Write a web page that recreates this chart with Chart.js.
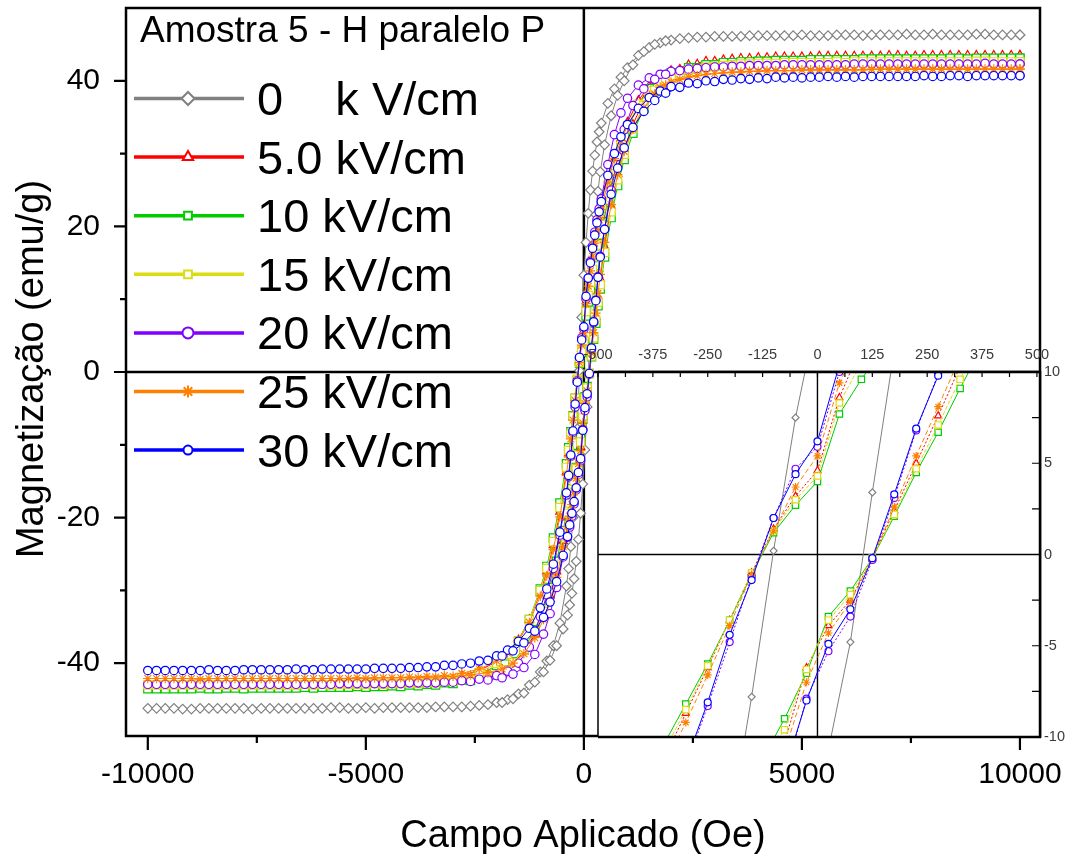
<!DOCTYPE html>
<html>
<head>
<meta charset="utf-8">
<title>Amostra 5 - H paralelo P</title>
<script src="https://cdn.jsdelivr.net/npm/chart.js@4.4.1/dist/chart.umd.min.js"></script>
<style>
  body { margin: 0; background: #fff; }
  #wrap { position: relative; width: 1068px; height: 854px; background: #fff; }
  #mainChart { position: absolute; left: 0; top: 0; }
  #insetChart { position: absolute; left: 560px; top: 330px; }
</style>
</head>
<body>
<div id="wrap">
  <canvas id="mainChart" width="1068" height="854"></canvas>
  <canvas id="insetChart" width="508" height="424"></canvas>
</div>
<script>
// applied field grid, sweep from +10 kOe down to -10 kOe
const fieldDown = [10000, 9600, 9200, 8800, 8400, 8000, 7600, 7200, 6800, 6400, 6000, 5600, 5200, 4800, 4400, 4000, 3600, 3200, 2800, 2400, 2000,
  1750, 1500, 1250, 1000, 850, 700, 550,
  400, 350, 300, 250, 200, 150, 100, 50, 0, -50, -100, -150, -200, -250, -300, -350, -400,
  -550, -700, -850, -1000, -1250, -1500, -1750,
  -2000, -2400, -2800, -3200, -3600, -4000, -4400, -4800, -5200, -5600, -6000, -6400, -6800, -7200, -7600, -8000, -8400, -8800, -9200, -9600, -10000];
// return sweep from -10 kOe back up to +10 kOe
const fieldUp = [-9800, -9400, -9000, -8600, -8200, -7800, -7400, -7000, -6600, -6200, -5800, -5400, -5000, -4600, -4200, -3800, -3400, -3000, -2600, -2200,
  -1875, -1625, -1375, -1125, -925, -775, -625, -475,
  -375, -325, -275, -225, -175, -125, -75, -25, 25, 75, 125, 175, 225, 275, 325, 375,
  475, 625, 775, 925, 1125, 1375, 1625, 1875,
  2200, 2600, 3000, 3400, 3800, 4200, 4600, 5000, 5400, 5800, 6200, 6600, 7000, 7400, 7800, 8200, 8600, 9000, 9400, 9800, 10000];

// magnetization (emu/g) for each applied electric field
const m0Down = [46.3, 46.3, 46.4, 46.3, 46.3, 46.4, 46.3, 46.3, 46.3, 46.2, 46.3, 46.2, 46.2, 46.2, 46.2, 46.2, 46.1, 46.1, 46.0, 45.9, 45.6,
  45.2, 44.6, 43.5, 41.8, 40.5, 38.9, 36.9,
  34.2, 33.0, 31.6, 29.8, 27.6, 25.0, 21.8, 17.8, 13.3, 7.5, 0.2, -7.8, -15.0, -20.0, -24.0, -27.0, -29.4,
  -34.5, -37.6, -39.7, -41.2, -43.0, -44.2, -45.0,
  -45.4, -45.8, -46.0, -46.0, -46.1, -46.1, -46.1, -46.2, -46.2, -46.1, -46.2, -46.2, -46.2, -46.2, -46.3, -46.2, -46.2, -46.2, -46.3, -46.2, -46.2];
const m0Up = [-46.2, -46.2, -46.3, -46.2, -46.2, -46.2, -46.2, -46.2, -46.2, -46.2, -46.1, -46.2, -46.1, -46.1, -46.1, -46.1, -46.0, -46.0, -45.9, -45.7,
  -45.4, -44.9, -44.1, -42.6, -41.2, -39.6, -37.6, -35.3,
  -33.4, -32.0, -30.4, -28.4, -26.0, -23.0, -19.4, -15.4, -10.7, -4.8, 3.4, 11.2, 17.4, 21.6, 24.8, 27.5,
  31.2, 35.2, 38.0, 40.0, 42.2, 44.0, 45.0, 45.5,
  45.8, 46.0, 46.1, 46.1, 46.2, 46.2, 46.2, 46.3, 46.2, 46.3, 46.3, 46.3, 46.3, 46.4, 46.3, 46.3, 46.3, 46.4, 46.3, 46.3, 46.3];

const m5Down = [43.5, 43.5, 43.5, 43.5, 43.5, 43.5, 43.4, 43.5, 43.4, 43.4, 43.4, 43.4, 43.3, 43.3, 43.3, 43.2, 43.1, 42.9, 42.7, 42.2, 41.4,
  40.6, 39.3, 37.3, 34.3, 32.0, 29.2, 25.6,
  21.5, 20.0, 18.5, 16.8, 15.0, 13.0, 11.4, 8.6, 4.6, 3.2, 1.4, -1.0, -3.6, -6.2, -8.7, -11.2, -13.7,
  -19.2, -23.8, -27.4, -30.3, -34.0, -36.8, -38.6,
  -39.8, -41.0, -41.7, -42.1, -42.3, -42.4, -42.5, -42.6, -42.6, -42.6, -42.7, -42.7, -42.7, -42.7, -42.8, -42.8, -42.8, -42.8, -42.8, -42.8, -42.8];
const m5Up = [-42.8, -42.8, -42.8, -42.8, -42.8, -42.8, -42.8, -42.7, -42.7, -42.7, -42.7, -42.7, -42.7, -42.6, -42.6, -42.6, -42.5, -42.4, -42.1, -41.6,
  -40.9, -40.0, -38.4, -36.0, -33.3, -30.7, -27.4, -23.2,
  -20.0, -18.6, -17.0, -15.3, -13.5, -11.6, -10.3, -6.2, -3.9, -2.5, -0.2, 2.4, 5.0, 7.6, 10.3, 12.8,
  17.2, 22.8, 27.2, 30.6, 34.0, 37.3, 39.4, 40.7,
  41.6, 42.3, 42.7, 43.0, 43.1, 43.2, 43.3, 43.3, 43.4, 43.4, 43.4, 43.4, 43.5, 43.4, 43.5, 43.5, 43.5, 43.5, 43.5, 43.5, 43.5];

const m10Down = [43.1, 43.1, 43.1, 43.0, 43.1, 43.0, 43.0, 43.0, 43.0, 43.0, 42.9, 42.9, 42.9, 42.8, 42.8, 42.7, 42.6, 42.5, 42.2, 41.8, 41.1,
  40.3, 38.9, 36.7, 33.4, 30.8, 27.6, 23.6,
  19.0, 17.6, 16.2, 14.6, 13.0, 11.3, 9.6, 7.7, 4.0, 2.7, 1.2, -1.1, -3.6, -6.0, -8.2, -10.4, -12.6,
  -18.0, -22.8, -26.7, -29.8, -34.0, -37.0, -39.0,
  -40.3, -41.6, -42.3, -42.7, -42.9, -43.0, -43.1, -43.2, -43.2, -43.3, -43.3, -43.3, -43.4, -43.4, -43.4, -43.4, -43.5, -43.4, -43.5, -43.5, -43.5];
const m10Up = [-43.5, -43.5, -43.5, -43.5, -43.4, -43.5, -43.4, -43.4, -43.4, -43.4, -43.3, -43.3, -43.3, -43.2, -43.2, -43.1, -43.0, -42.8, -42.4, -41.8,
  -40.9, -39.8, -38.0, -35.4, -32.5, -29.6, -26.0, -21.8,
  -18.8, -17.4, -16.0, -14.6, -13.1, -11.2, -9.0, -6.5, -3.4, -2.0, -0.2, 2.1, 4.5, 6.7, 9.1, 11.4,
  15.8, 21.2, 25.6, 29.2, 32.8, 36.2, 38.6, 40.1,
  41.1, 41.8, 42.2, 42.5, 42.6, 42.7, 42.8, 42.8, 42.9, 42.9, 42.9, 43.0, 43.0, 43.0, 43.0, 43.0, 43.1, 43.1, 43.1, 43.1, 43.1];

const m15Down = [42.6, 42.6, 42.7, 42.6, 42.6, 42.6, 42.6, 42.6, 42.6, 42.6, 42.5, 42.5, 42.5, 42.5, 42.4, 42.4, 42.3, 42.1, 41.9, 41.4, 40.7,
  39.9, 38.6, 36.8, 33.8, 31.4, 28.4, 24.6,
  20.3, 18.9, 17.4, 15.8, 14.1, 12.3, 10.5, 8.3, 4.3, 3.0, 1.3, -1.0, -3.6, -6.1, -8.5, -10.8, -13.1,
  -18.6, -23.3, -27.0, -30.0, -34.0, -36.9, -38.8,
  -40.0, -41.3, -42.0, -42.4, -42.6, -42.7, -42.8, -42.8, -42.9, -42.9, -42.9, -42.9, -43.0, -43.0, -43.0, -43.0, -43.0, -43.0, -43.0, -43.0, -43.0];
const m15Up = [-43.0, -43.0, -43.0, -43.0, -43.0, -43.0, -43.0, -43.0, -43.0, -43.0, -43.0, -42.9, -42.9, -42.9, -42.8, -42.8, -42.7, -42.5, -42.2, -41.7,
  -40.9, -39.9, -38.2, -35.7, -32.9, -30.1, -26.7, -22.5,
  -19.4, -18.0, -16.5, -15.0, -13.3, -11.4, -9.6, -6.3, -3.6, -2.2, -0.2, 2.2, 4.7, 7.1, 9.6, 12.0,
  16.4, 22.0, 26.4, 29.9, 33.4, 36.6, 38.7, 40.0,
  40.9, 41.6, 42.0, 42.2, 42.3, 42.4, 42.5, 42.5, 42.5, 42.6, 42.6, 42.6, 42.6, 42.6, 42.6, 42.6, 42.6, 42.7, 42.6, 42.6, 42.6];

const m20Down = [42.3, 42.3, 42.4, 42.3, 42.3, 42.3, 42.3, 42.3, 42.3, 42.3, 42.2, 42.2, 42.2, 42.2, 42.1, 42.1, 42.0, 41.9, 41.8, 41.6, 41.3,
  40.9, 40.4, 39.4, 37.6, 35.6, 32.6, 28.5,
  23.8, 22.4, 20.9, 19.2, 17.3, 15.2, 12.9, 10.0, 5.9, 4.7, 2.0, -1.2, -4.8, -8.3, -11.6, -14.4, -16.9,
  -22.4, -27.0, -30.6, -33.6, -37.8, -40.0, -41.1,
  -41.7, -42.2, -42.4, -42.6, -42.7, -42.7, -42.8, -42.8, -42.8, -42.8, -42.9, -42.9, -42.9, -42.9, -42.9, -42.9, -42.9, -42.9, -42.9, -42.9, -42.9];
const m20Up = [-42.9, -42.9, -42.9, -42.9, -42.9, -42.9, -42.9, -42.9, -42.9, -42.9, -42.9, -42.8, -42.8, -42.8, -42.8, -42.7, -42.7, -42.6, -42.5, -42.3,
  -42.0, -41.5, -40.6, -38.8, -36.0, -33.2, -29.6, -25.4,
  -22.7, -21.3, -19.8, -18.1, -16.2, -14.1, -12.2, -7.9, -5.3, -3.4, -0.3, 3.1, 6.8, 9.9, 13.1, 15.9,
  19.6, 25.0, 29.6, 33.3, 36.6, 38.9, 40.2, 40.9,
  41.4, 41.7, 41.9, 42.0, 42.1, 42.1, 42.2, 42.2, 42.2, 42.2, 42.3, 42.3, 42.3, 42.3, 42.3, 42.3, 42.3, 42.3, 42.3, 42.3, 42.3];

const m25Down = [41.6, 41.6, 41.6, 41.6, 41.6, 41.6, 41.6, 41.6, 41.6, 41.5, 41.5, 41.5, 41.5, 41.4, 41.4, 41.3, 41.2, 41.1, 40.9, 40.5, 39.8,
  39.1, 38.0, 36.3, 33.8, 31.8, 29.3, 26.1,
  22.3, 20.9, 19.4, 17.7, 15.9, 13.9, 11.8, 9.4, 5.4, 3.7, 1.3, -1.1, -3.9, -6.6, -9.2, -11.7, -14.2,
  -19.9, -24.4, -28.0, -30.8, -34.4, -36.9, -38.6,
  -39.7, -40.8, -41.4, -41.7, -41.8, -41.9, -42.0, -42.0, -42.0, -42.1, -42.1, -42.1, -42.1, -42.1, -42.1, -42.1, -42.1, -42.2, -42.1, -42.1, -42.1];
const m25Up = [-42.1, -42.1, -42.1, -42.1, -42.1, -42.1, -42.1, -42.1, -42.1, -42.1, -42.1, -42.1, -42.1, -42.0, -42.0, -42.0, -41.9, -41.8, -41.6, -41.3,
  -40.8, -40.0, -38.7, -36.5, -34.0, -31.5, -28.2, -24.0,
  -21.2, -19.8, -18.2, -16.5, -14.6, -12.6, -10.8, -7.0, -4.3, -2.6, -0.2, 2.6, 5.4, 8.1, 10.8, 13.4,
  17.8, 23.0, 27.1, 30.3, 33.4, 36.3, 38.2, 39.4,
  40.2, 40.7, 41.0, 41.2, 41.3, 41.4, 41.4, 41.5, 41.5, 41.5, 41.5, 41.6, 41.6, 41.6, 41.6, 41.6, 41.6, 41.6, 41.6, 41.6, 41.6];

const m30Down = [40.7, 40.7, 40.7, 40.6, 40.7, 40.6, 40.6, 40.6, 40.6, 40.6, 40.6, 40.6, 40.5, 40.5, 40.5, 40.4, 40.3, 40.2, 40.0, 39.7, 39.2,
  38.6, 37.7, 36.2, 34.0, 32.3, 30.0, 27.0,
  23.4, 22.0, 20.5, 18.8, 17.0, 15.0, 12.9, 10.4, 6.2, 4.4, 2.0, -1.4, -4.4, -8.1, -11.4, -14.2, -16.6,
  -22.0, -26.4, -29.8, -32.4, -35.2, -37.0, -38.2,
  -39.0, -39.7, -40.1, -40.3, -40.5, -40.6, -40.7, -40.7, -40.8, -40.8, -40.8, -40.9, -40.9, -40.9, -40.9, -41.0, -41.0, -41.0, -41.0, -41.0, -41.0];
const m30Up = [-41.0, -41.0, -41.0, -40.9, -41.0, -40.9, -40.9, -40.9, -40.8, -40.9, -40.8, -40.8, -40.8, -40.7, -40.7, -40.6, -40.5, -40.3, -40.0, -39.6,
  -39.0, -38.3, -37.2, -35.6, -33.7, -31.6, -28.8, -25.2,
  -22.6, -21.0, -19.4, -17.8, -15.9, -13.8, -11.9, -8.0, -4.9, -3.0, -0.2, 3.3, 6.9, 9.8, 13.0, 15.8,
  19.6, 24.4, 28.0, 30.8, 33.6, 35.8, 37.3, 38.3,
  39.1, 39.6, 39.9, 40.1, 40.2, 40.3, 40.4, 40.4, 40.5, 40.5, 40.5, 40.6, 40.6, 40.6, 40.7, 40.6, 40.7, 40.7, 40.7, 40.7, 40.7];

const seriesLabels = ['0    k V/cm', '5.0 kV/cm', '10 kV/cm', '15 kV/cm', '20 kV/cm', '25 kV/cm', '30 kV/cm'];
const fieldTicks = [-10000, -5000, 0, 5000, 10000];
const fieldMinorTicks = [-7500, -2500, 2500, 7500];
const magTicks = [-40, -20, 0, 20, 40];
const magMinorTicks = [-30, -10, 10, 30];
const insetFieldTicks = [-500, -375, -250, -125, 0, 125, 250, 375, 500];
const insetMagTicks = [10, 5, 0, -5, -10];

// look of each series
const seriesColors = ['#808080', '#ff0000', '#00cc00', '#dcdc14', '#8000ff', '#ff8000', '#0000ff'];
const seriesMarkers = ['rectRot', 'triangle', 'rect', 'rect', 'circle', 'star', 'circle'];
const insetDash = [[], [2, 2], [], [4, 2], [2, 2], [5, 3], []];
const mainRadius = { rectRot: 4.8, triangle: 4.8, rect: 5.8, circle: 4.2, star: 4.8 };
const insetRadius = { rectRot: 3.5, triangle: 4, rect: 4.5, circle: 3.5, star: 4 };
const legendRadius = [6.5, 6, 5.5, 5.5, 5.5, 6, 4.5];

const FONT = "'Liberation Sans', Arial, Helvetica, sans-serif";

function loopPoints(down, up) {
  const pts = fieldDown.map((h, i) => ({ x: h, y: down[i] }));
  fieldUp.forEach((h, i) => pts.push({ x: h, y: up[i] }));
  return pts;
}

const loops = [
  loopPoints(m0Down, m0Up),
  loopPoints(m5Down, m5Up),
  loopPoints(m10Down, m10Up),
  loopPoints(m15Down, m15Up),
  loopPoints(m20Down, m20Up),
  loopPoints(m25Down, m25Up),
  loopPoints(m30Down, m30Up)
];

function makeDatasets(radius, dashed) {
  return loops.map((pts, i) => ({
    label: seriesLabels[i],
    data: pts,
    showLine: true,
    borderColor: seriesColors[i],
    backgroundColor: '#ffffff',
    borderWidth: 1,
    borderDash: dashed ? insetDash[i] : [],
    pointStyle: seriesMarkers[i],
    pointRadius: radius[seriesMarkers[i]],
    pointBorderColor: seriesColors[i],
    pointBackgroundColor: '#ffffff',
    pointBorderWidth: 1.2,
    // last series ends up on top
    order: loops.length - 1 - i
  }));
}

function drawMarker(ctx, style, radius, x, y) {
  if (Chart.helpers && Chart.helpers.drawPoint) {
    Chart.helpers.drawPoint(ctx, { pointStyle: style, radius: radius, borderWidth: ctx.lineWidth, rotation: 0 }, x, y);
  } else {
    ctx.beginPath();
    ctx.arc(x, y, radius, 0, Math.PI * 2);
    ctx.fill();
    ctx.stroke();
  }
}

// quadrant lines, frame, ticks, legend and axis titles of the main plot
const mainDecor = {
  id: 'mainDecor',
  beforeDatasetsDraw(chart) {
    const { ctx, chartArea: a, scales: { x, y } } = chart;
    ctx.save();
    ctx.strokeStyle = '#000';
    ctx.lineWidth = 2.5;
    const x0 = x.getPixelForValue(0);
    const y0 = y.getPixelForValue(0);
    ctx.beginPath();
    ctx.moveTo(x0, a.top);
    ctx.lineTo(x0, a.bottom);
    ctx.moveTo(a.left, y0);
    ctx.lineTo(a.right, y0);
    ctx.stroke();

    // tick labels
    ctx.fillStyle = '#000';
    ctx.font = '30px ' + FONT;
    ctx.textAlign = 'right';
    ctx.textBaseline = 'middle';
    magTicks.forEach(v => ctx.fillText(String(v), a.left - 26, y.getPixelForValue(v)));
    ctx.textAlign = 'center';
    fieldTicks.forEach(v => ctx.fillText(String(v), x.getPixelForValue(v), a.bottom + 39));
    ctx.restore();
  },
  afterDatasetsDraw(chart) {
    const { ctx, chartArea: a, scales: { x, y } } = chart;
    ctx.save();
    ctx.strokeStyle = '#000';
    ctx.lineWidth = 2.5;
    ctx.strokeRect(a.left, a.top, a.right - a.left, a.bottom - a.top);
    ctx.lineWidth = 2.2;
    ctx.beginPath();
    magTicks.concat(magMinorTicks).forEach(v => {
      const py = y.getPixelForValue(v);
      const len = magTicks.includes(v) ? 12 : 6;
      ctx.moveTo(a.left - len, py);
      ctx.lineTo(a.left, py);
    });
    fieldTicks.concat(fieldMinorTicks).forEach(v => {
      const px = x.getPixelForValue(v);
      const len = fieldTicks.includes(v) ? 14 : 7;
      ctx.moveTo(px, a.bottom);
      ctx.lineTo(px, a.bottom + len);
    });
    ctx.stroke();
    ctx.restore();
  },
  afterDraw(chart) {
    const { ctx } = chart;
    ctx.save();
    ctx.fillStyle = '#000';

    // legend block
    ctx.font = '37px ' + FONT;
    ctx.textAlign = 'left';
    ctx.textBaseline = 'alphabetic';
    ctx.fillText('Amostra 5 - H paralelo P', 140, 42);
    seriesLabels.forEach((label, i) => {
      const base = 115 + i * 58.6;
      const ly = base - 16.5;
      ctx.strokeStyle = seriesColors[i];
      ctx.lineWidth = 3.5;
      ctx.beginPath();
      ctx.moveTo(134, ly);
      ctx.lineTo(244, ly);
      ctx.stroke();
      ctx.lineWidth = 2;
      ctx.fillStyle = '#ffffff';
      drawMarker(ctx, seriesMarkers[i], legendRadius[i], 188, ly);
      ctx.fillStyle = '#000';
      ctx.font = '47px ' + FONT;
      ctx.fillText(label, 257, base);
    });

    // axis titles
    ctx.font = '38px ' + FONT;
    ctx.textAlign = 'center';
    ctx.fillText('Campo Aplicado (Oe)', 583, 847);
    ctx.translate(43, 369);
    ctx.rotate(-Math.PI / 2);
    ctx.fillText('Magnetização (emu/g)', 0, 0);
    ctx.restore();
  }
};

new Chart(document.getElementById('mainChart'), {
  type: 'scatter',
  data: { datasets: makeDatasets(mainRadius, false) },
  options: {
    responsive: false,
    animation: false,
    events: [],
    layout: { padding: { top: 8, right: 28, left: 126, bottom: 118 } },
    plugins: { legend: { display: false }, tooltip: { enabled: false } },
    scales: {
      x: { type: 'linear', min: -10500, max: 10460, display: false },
      y: { type: 'linear', min: -50, max: 50, display: false }
    }
  },
  plugins: [mainDecor]
});

// zoom on the loop centre: white panel, axes through zero, ticks on top and right
const insetDecor = {
  id: 'insetDecor',
  beforeDraw(chart) {
    const { ctx, chartArea: a } = chart;
    ctx.save();
    ctx.fillStyle = '#fff';
    ctx.fillRect(a.left, a.top, a.right - a.left, a.bottom - a.top);
    ctx.restore();
  },
  beforeDatasetsDraw(chart) {
    const { ctx, chartArea: a, scales: { x, y } } = chart;
    ctx.save();
    ctx.strokeStyle = '#000';
    ctx.lineWidth = 1.4;
    const x0 = x.getPixelForValue(0);
    const y0 = y.getPixelForValue(0);
    ctx.beginPath();
    ctx.moveTo(x0, a.top);
    ctx.lineTo(x0, a.bottom);
    ctx.moveTo(a.left, y0);
    ctx.lineTo(a.right, y0);
    ctx.stroke();
    ctx.restore();
  },
  afterDatasetsDraw(chart) {
    const { ctx, chartArea: a, scales: { x, y } } = chart;
    ctx.save();
    ctx.strokeStyle = '#000';
    // left edge is thin, the others sit on the main frame
    ctx.lineWidth = 1.5;
    ctx.beginPath();
    ctx.moveTo(a.left, a.top);
    ctx.lineTo(a.left, a.bottom);
    ctx.stroke();
    ctx.lineWidth = 2.5;
    ctx.beginPath();
    ctx.moveTo(a.left, a.top);
    ctx.lineTo(a.right, a.top);
    ctx.lineTo(a.right, a.bottom);
    ctx.lineTo(a.left, a.bottom);
    ctx.stroke();

    ctx.lineWidth = 1.2;
    ctx.beginPath();
    for (let k = -8; k <= 8; k++) {
      const px = x.getPixelForValue(k * 62.5);
      ctx.moveTo(px, a.top);
      ctx.lineTo(px, a.top + 5);
    }
    for (let k = -4; k <= 4; k++) {
      const py = y.getPixelForValue(k * 2.5);
      ctx.moveTo(a.right, py);
      ctx.lineTo(a.right - 8, py);
    }
    ctx.stroke();

    ctx.fillStyle = '#3a3a3a';
    ctx.font = '14.5px ' + FONT;
    ctx.textAlign = 'center';
    ctx.textBaseline = 'middle';
    insetFieldTicks.forEach(v => {
      ctx.fillText(String(v), x.getPixelForValue(v), a.top - 17);
    });
    ctx.textAlign = 'left';
    insetMagTicks.forEach(v => {
      ctx.fillText(String(v), a.right + 4, y.getPixelForValue(v));
    });
    ctx.restore();
  }
};

new Chart(document.getElementById('insetChart'), {
  type: 'scatter',
  data: { datasets: makeDatasets(insetRadius, true) },
  options: {
    responsive: false,
    animation: false,
    events: [],
    layout: { padding: { top: 42, right: 28, left: 38, bottom: 17 } },
    plugins: { legend: { display: false }, tooltip: { enabled: false } },
    scales: {
      x: { type: 'linear', min: -500, max: 507, display: false },
      y: { type: 'linear', min: -10, max: 10, display: false }
    }
  },
  plugins: [insetDecor]
});
</script>
</body>
</html>
